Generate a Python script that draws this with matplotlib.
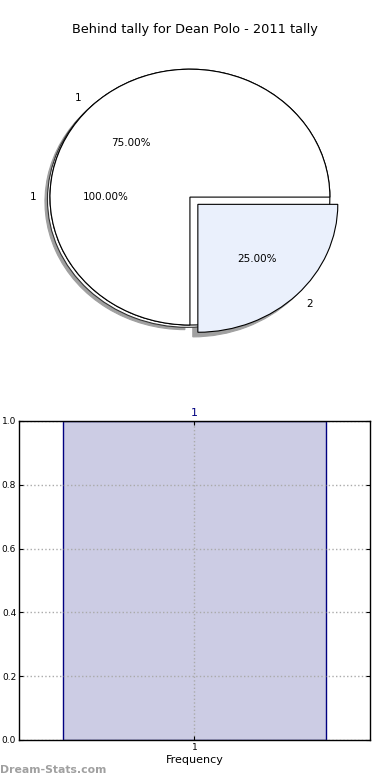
import matplotlib
matplotlib.use("Agg")
import matplotlib.pyplot as plt

# ---------- data ----------
TITLE = 'Behind tally for Dean Polo - 2011 tally'
full_sizes = [1]
full_labels = ['1']
split_sizes = [3, 1]
split_labels = ['1', '2']
split_explode = [0, 0.08]
bar_categories = ['1']
bar_values = [1.0]
bar_counts = ['1']
y_ticks = [0.0, 0.2, 0.4, 0.6, 0.8, 1.0]

fig = plt.figure(figsize=(3.9, 7.8), dpi=100)

# ---------- pie (top) ----------
ax1 = fig.add_axes([0.0385, 0.5423, 0.897, 0.410])
# full pie underneath: thin outlined shadow
ax1.pie(full_sizes, labels=full_labels, autopct='%.2f%%', colors=['white'],
        shadow={'ox': -0.013, 'oy': -0.013, 'facecolor': 'white',
                'edgecolor': '#333333', 'alpha': 1, 'linewidth': 0.8,
                'zorder': 0.95},
        wedgeprops={'edgecolor': 'black', 'linewidth': 0.8},
        textprops={'fontsize': 7.5})
# split pie on top: grey drop shadow
ax1.pie(split_sizes, labels=split_labels, autopct='%.2f%%', explode=split_explode,
        colors=['white', '#EAF0FC'],
        shadow={'ox': -0.026, 'oy': -0.026, 'facecolor': '#a0a0a0',
                'edgecolor': '#a0a0a0', 'alpha': 1, 'zorder': 0.9},
        wedgeprops={'edgecolor': 'black', 'linewidth': 0.8},
        textprops={'fontsize': 7.5})
ax1.set_aspect('auto')
ax1.set_xlim(-1.25, 1.25)
ax1.set_ylim(-1.25, 1.25)
fig.text(0.5, 1 - 30 / 780, TITLE, ha='center', va='center', fontsize=9.3)

# ---------- bar (bottom) ----------
ax2 = fig.add_axes([0.0487, 0.0513, 0.9, 0.409])
x = [1]
bars = ax2.bar(x, bar_values, width=0.75, color='#CCCCE4', edgecolor='#000080',
               linewidth=1, zorder=2)
ax2.bar_label(bars, labels=bar_counts, padding=2, color='#000080', fontsize=8)
ax2.set_xlim(0.5, 1.5)
ax2.set_ylim(0, 1)
ax2.set_xticks(x)
ax2.set_xticklabels(bar_categories, fontsize=6.5)
ax2.set_yticks(y_ticks)
ax2.set_yticklabels([f'{v:.1f}' for v in y_ticks], fontsize=6.5)
ax2.tick_params(direction='in', length=3, top=True, right=True, pad=2)
ax2.grid(True, linestyle=':', color='#aaaaaa', linewidth=1, zorder=3)
ax2.set_axisbelow(False)
ax2.set_xlabel('Frequency', fontsize=8, labelpad=2)
for s in ax2.spines.values():
    s.set_linewidth(1)
    s.set_zorder(4)

fig.text(0.0, 1 - 770 / 780, 'Dream-Stats.com', ha='left', va='center',
         fontsize=7.8, fontweight='bold', color='#a0a0a0')

fig.savefig('out.png', dpi=100)
